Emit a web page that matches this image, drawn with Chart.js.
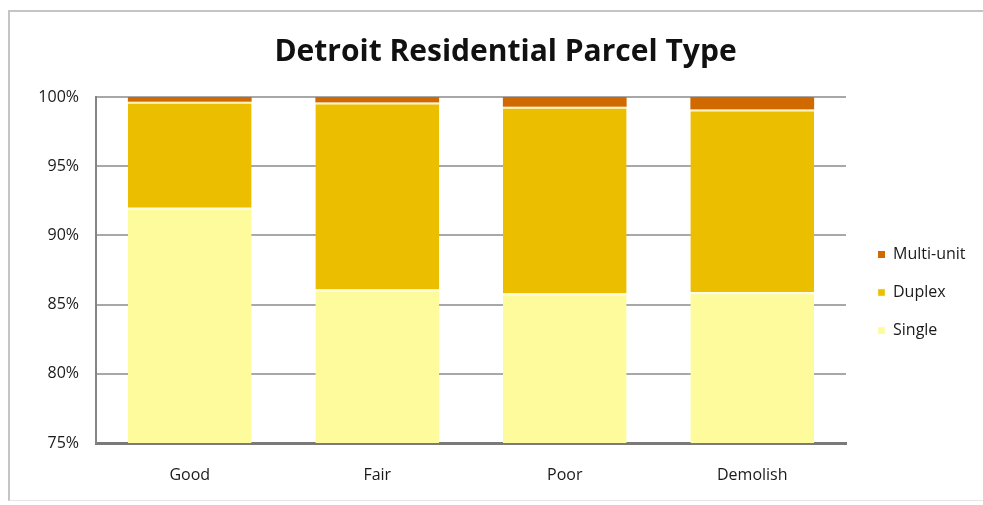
<!DOCTYPE html>
<html>
<head>
<meta charset="utf-8">
<script src="https://cdn.jsdelivr.net/npm/chart.js@4/dist/chart.umd.min.js"></script>
<style>
  html, body { margin: 0; padding: 0; background: #fff; }
  #frame { position: absolute; left: 8px; top: 10px; width: 1000px; height: 488px;
           border-top: 2px solid #c4c4c4; border-left: 2px solid #c4c4c4; border-bottom: 1px solid #e6e6e6; }
  #wrap { position: absolute; left: 0; top: 0; width: 983px; height: 505px; }
</style>
</head>
<body>
<div id="frame"></div>
<div id="wrap"><canvas id="c" width="983" height="505"></canvas></div>
<script>
const categories = ['Good', 'Fair', 'Poor', 'Demolish'];
const singleValues = [92.0, 86.1, 85.8, 85.9];
const duplexValues = [7.66, 13.5, 13.5, 13.2];
const multiUnitValues = [0.34, 0.4, 0.7, 0.9];
const yTicks = [75, 80, 85, 90, 95, 100];

const FONT = '"Open Sans", Lato, sans-serif';

const layoutTweak = {
  id: 'layoutTweak',
  beforeLayout(chart) {
    const lg = chart.legend;
    if (lg && !lg._wrapped) {
      const f = lg.fit.bind(lg);
      lg.fit = function () { f(); this.width = 137; };
      lg._wrapped = true;
    }
  },
  afterLayout(chart) {
    const lg = chart.legend;
    if (lg) { lg.left += 10; lg.right += 10; lg.top += 51; lg.bottom += 51; }
    const t = chart.titleBlock;
    if (t) { t.left += 6; t.right += 6; }
  }
};

new Chart(document.getElementById('c'), {
  type: 'bar',
  data: {
    labels: categories,
    datasets: [
      { label: 'Single', data: singleValues, backgroundColor: '#fdfb9c',
        borderColor: '#fffbe0', borderWidth: { top: 2, left: 0, right: 0, bottom: 0 }, borderSkipped: false },
      { label: 'Duplex', data: duplexValues, backgroundColor: '#ebbf00',
        borderColor: '#fff3c0', borderWidth: { top: 2, left: 0, right: 0, bottom: 0 }, borderSkipped: false },
      { label: 'Multi-unit', data: multiUnitValues, backgroundColor: '#d06a00', borderWidth: 0 }
    ]
  },
  plugins: [layoutTweak],
  options: {
    responsive: false,
    animation: false,
    layout: { padding: { left: 16, right: 0, top: 0, bottom: 22 } },
    datasets: { bar: { categoryPercentage: 1, barPercentage: 0.66 } },
    scales: {
      x: {
        stacked: true,
        afterFit: (axis) => { axis.height = 40; },
        grid: { display: false, drawTicks: false },
        border: { display: true, color: '#7a7a7a', width: 3 },
        ticks: { color: '#1a1a1a', font: { family: FONT, size: 16 }, padding: 23 }
      },
      y: {
        stacked: true,
        min: 75, max: 100,
        afterFit: (axis) => { axis.width = 80; },
        afterBuildTicks: (axis) => { axis.ticks = yTicks.map(v => ({ value: v })); },
        grid: { color: '#a8a8a8', lineWidth: 2, drawTicks: false },
        border: { display: true, color: '#858585', width: 2 },
        ticks: { color: '#1a1a1a', font: { family: FONT, size: 16 }, padding: 17,
                 callback: (v) => v + '%' }
      }
    },
    plugins: {
      title: { display: true, text: 'Detroit Residential Parcel Type', color: '#111',
               font: { family: FONT, size: 30, weight: 'bold' }, padding: { top: 34, bottom: 27 } },
      legend: {
        position: 'right', reverse: true,
        labels: { color: '#1a1a1a', font: { family: FONT, size: 16 }, boxWidth: 7, boxHeight: 7, padding: 22 }
      },
      tooltip: { enabled: false }
    }
  }
});
</script>
</body>
</html>
